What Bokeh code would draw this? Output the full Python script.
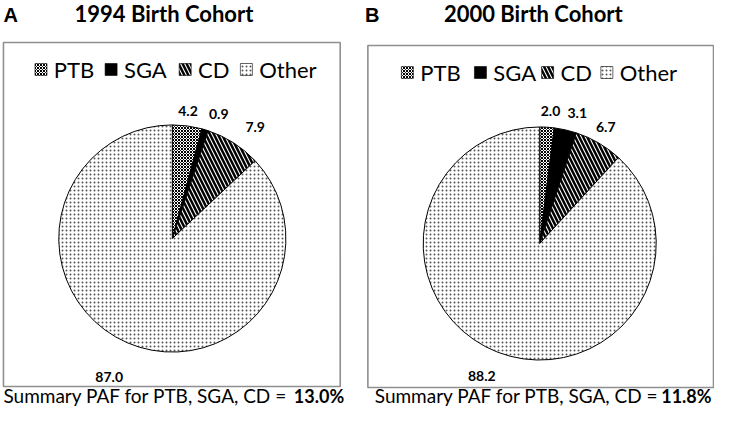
import math
from bokeh.plotting import figure
from bokeh.models import Range1d
from bokeh.core.properties import value
from bokeh.embed import file_html
from bokeh.resources import INLINE

# ---- data ----
categories = ["PTB", "SGA", "CD", "Other"]
values_1994 = [4.2, 0.9, 7.9, 87.0]
values_2000 = [2.0, 3.1, 6.7, 88.2]
panel_letters = ["A", "B"]
panel_titles = ["1994 Birth Cohort", "2000 Birth Cohort"]
summary_text = "Summary PAF for PTB, SGA, CD ="
summary_values = ["13.0%", "11.8%"]

# ---- styles ----
styles = {
    "PTB": dict(fill_color="white", hatch_pattern="diagonal_cross", hatch_scale=3, hatch_weight=1, hatch_color="black"),
    "SGA": dict(fill_color="black"),
    "CD": dict(fill_color="white", hatch_pattern="left_diagonal_line", hatch_scale=8, hatch_weight=2.5, hatch_color="black"),
    "Other": dict(fill_color="white", hatch_pattern="dot", hatch_scale=4, hatch_weight=1, hatch_color="#555555"),
}

W, H = 714, 408
X0, X1 = 2, 725
Y0, Y1 = 3, 411
sx = W / (X1 - X0)


def Y(img_y):
    return 424 - img_y


p = figure(width=W, height=H, output_backend="svg", toolbar_location=None,
           x_range=Range1d(X0, X1), y_range=Range1d(Y(Y1), Y(Y0)), min_border=0)
p.axis.visible = False
p.grid.visible = False
p.outline_line_color = None
p.background_fill_color = "white"
p.border_fill_color = "white"

# layout: label radial factor and angular nudge (degrees) per slice
panels = [
    dict(vals=values_1994, box=(5, 45, 346, 389), cx=176, cy=241, r=115,
         label_fac=[1.12, 1.16, 1.21, 1.33], label_nudge=[-0.5, 3.9, 4.5, 1.3],
         legend_x=[37, 108, 183, 245], legend_y=72, letter_x=5, title_x=77,
         sum_start=5, sum_end=350),
    dict(vals=values_2000, box=(374, 48, 724, 390), cx=548, cy=246, r=118,
         label_fac=[1.13, 1.15, 1.14, 1.23], label_nudge=[1.1, 3.5, -0.6, 2.6],
         legend_x=[408, 482, 550, 610], legend_y=75, letter_x=371, title_x=451,
         sum_start=381, sum_end=722),
]

FONT = "Lato"

for i, pn in enumerate(panels):
    x0, y0, x1, y1 = pn["box"]
    p.quad(left=[x0], right=[x1], top=[Y(y0)], bottom=[Y(y1)], fill_color=None,
           line_color="#8f8f8f", line_width=1.6)

    # title
    p.text(x=[pn["letter_x"]], y=[Y(17)], text=[panel_letters[i]],
           text_font=value("Liberation Sans"), text_font_style="bold", text_font_size="20px",
           text_baseline="middle", text_align="left", text_color="black")
    p.text(x=[pn["title_x"]], y=[Y(16)], text=[panel_titles[i]],
           text_font=value(FONT), text_font_style="bold", text_font_size="22px",
           text_baseline="middle", text_align="left", text_color="black")

    # pie
    vals = pn["vals"]
    total = sum(vals)
    cum = 0.0
    for k, (cat, v) in enumerate(zip(categories, vals)):
        a_start = math.pi / 2 - 2 * math.pi * (cum + v) / total
        a_end = math.pi / 2 - 2 * math.pi * cum / total
        p.wedge(x=[pn["cx"]], y=[Y(pn["cy"])], radius=pn["r"] * sx, radius_units="screen",
                start_angle=[a_start], end_angle=[a_end], line_color="black", line_width=1,
                **styles[cat])
        mid = 2 * math.pi * (cum + v / 2) / total + math.radians(pn["label_nudge"][k])
        fac = pn["label_fac"][k]
        lx = pn["cx"] + pn["r"] * fac * math.sin(mid)
        ly = pn["cy"] - pn["r"] * fac * math.cos(mid)
        p.text(x=[lx], y=[Y(ly)], text=[f"{v:.1f}"], text_font=value(FONT),
               text_font_style="bold", text_font_size="14px", text_align="center",
               text_baseline="middle", text_color="black")
        cum += v

    # legend
    for cat, lx in zip(categories, pn["legend_x"]):
        p.rect(x=[lx + 6], y=[Y(pn["legend_y"])], width=12, height=12,
               width_units="screen", height_units="screen", line_color="black",
               line_width=0.6, **styles[cat])
        p.text(x=[lx + 19], y=[Y(pn["legend_y"])], text=[cat], text_font=value(FONT),
               text_font_size="22px", text_baseline="middle", text_align="left",
               text_color="black")

    # summary
    p.text(x=[pn["sum_start"]], y=[Y(398)], text=[summary_text], text_font=value(FONT),
           text_font_size="19px", text_baseline="middle", text_align="left",
           text_color="black")
    p.text(x=[pn["sum_end"]], y=[Y(398)], text=[summary_values[i]], text_font=value(FONT),
           text_font_style="bold", text_font_size="18px", text_baseline="middle",
           text_align="right", text_color="black")

open("out.html", "w").write(file_html(p, INLINE))
